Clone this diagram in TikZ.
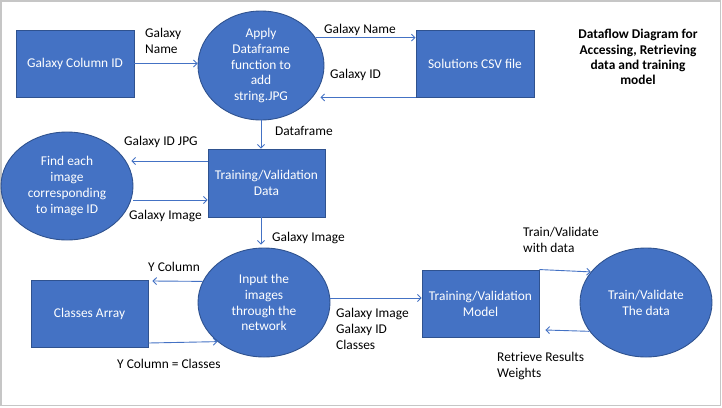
\documentclass[tikz,border=0pt]{standalone}
\usepackage{fontspec}
\setmainfont{Carlito}
\usepackage{tikz}
\usetikzlibrary{positioning, shapes.geometric, arrows.meta, calc}
\definecolor{dfdblue}{HTML}{4472C4}
\definecolor{dfdedge}{HTML}{2F528F}
\definecolor{framegray}{HTML}{C6C6C6}

\begin{document}
\begin{tikzpicture}[
x=1pt, y=-1pt,
every node/.style={font=\fontsize{13.4}{15.8}\selectfont},
store/.style={rectangle, draw=dfdedge, fill=dfdblue, line width=0.9pt, text=white, align=center, inner sep=0pt},
proc/.style={ellipse, draw=dfdedge, fill=dfdblue, line width=0.9pt, text=white, align=center, inner sep=0pt},
flow/.style={draw=dfdblue, line width=0.9pt, -{Straight Barb[length=3.5pt, width=7pt]}},
lbl/.style={anchor=west, align=left, inner sep=0pt},
]
\useasboundingbox (0,0) rectangle (722,407);
\draw[framegray, line width=1.5pt] (0.75,0.75) rectangle (720.5,405.5);

% Stores and processes
\node[store, minimum width=118pt, minimum height=67pt] (colid) at (75,63.5) {Galaxy Column ID};
\node[proc, minimum width=126pt, minimum height=109pt] (apply) at (261,65.5) {Apply\\Dataframe\\function to\\add\\string.JPG};
\node[store, minimum width=118pt, minimum height=67pt] (csv) at (475,63.5) {Solutions CSV file};
\node[store, minimum width=117pt, minimum height=68pt] (tvdata) at (266.5,183) {Training/Validation\\Data};
\node[proc, minimum width=132pt, minimum height=108pt] (find) at (67,186) {Find each\\image\\corresponding\\to image ID};
\node[store, minimum width=117pt, minimum height=67pt] (classes) at (89.5,313.5) {Classes Array};
\node[proc, minimum width=132pt, minimum height=109pt] (input) at (264,302.5) {Input the\\images\\through the\\network};
\node[store, minimum width=117pt, minimum height=67pt] (model) at (480.5,303.5) {Training/Validation\\Model};
\node[proc, minimum width=132pt, minimum height=109pt] (train) at (646,302.5) {Train/Validate\\The data};

% Title
\node[align=center, font=\fontsize{13.4}{15.3}\selectfont\bfseries] (title) at (638,57) {Dataflow Diagram for\\Accessing, Retrieving\\data and training\\model};

% Arrows
\draw[flow] (colid.east) -- (colid.east -| apply.west);
\draw[flow] (apply.27) -- (apply.27 -| csv.west);
\draw[flow] (csv.south west) -- ([xshift=-4pt]csv.south west -| apply.east);
\draw[flow] (apply.south) -- (apply.south |- tvdata.north);
\draw[flow] ([yshift=22pt]tvdata.west) -- ([yshift=25pt, xshift=-2pt]find.east);
\draw[flow] ([yshift=-14pt]find.east) -- ([yshift=-17pt]tvdata.west);
\draw[flow] (apply.south |- tvdata.south) -- ([yshift=3pt]apply.south |- input.north);
\draw[flow] (input.161) -- ([yshift=32.5pt, xshift=4pt]classes.east);
\draw[flow] ([yshift=-29.5pt]classes.east) -- (input.220);
\draw[flow] ([yshift=4.5pt]input.east) -- ([yshift=5.5pt]model.west);
\draw[flow] (model.north east) -- (train.151);
\draw[flow] (train.207) -- ([yshift=-26.5pt, xshift=6pt]model.east);

% Flow labels
\node[lbl] (l1) at (145,41) {Galaxy\\Name};
\node[lbl] (l2) at (324,30) {Galaxy Name};
\node[lbl] (l3) at (330,75) {Galaxy ID};
\node[lbl] (l4) at (275,131) {Dataframe};
\node[lbl] (l5) at (124,142) {Galaxy ID JPG};
\node[lbl] (l6) at (129,216) {Galaxy Image};
\node[lbl] (l7) at (272,238) {Galaxy Image};
\node[lbl] (l8) at (148,267) {Y Column};
\node[lbl] (l9) at (117,364) {Y Column = Classes};
\node[lbl] (l10) at (336,329) {Galaxy Image\\Galaxy ID\\Classes};
\node[lbl] (l11) at (523,240) {Train/Validate\\with data};
\node[lbl] (l12) at (497,366) {Retrieve Results\\Weights};

\end{tikzpicture}
\end{document}
